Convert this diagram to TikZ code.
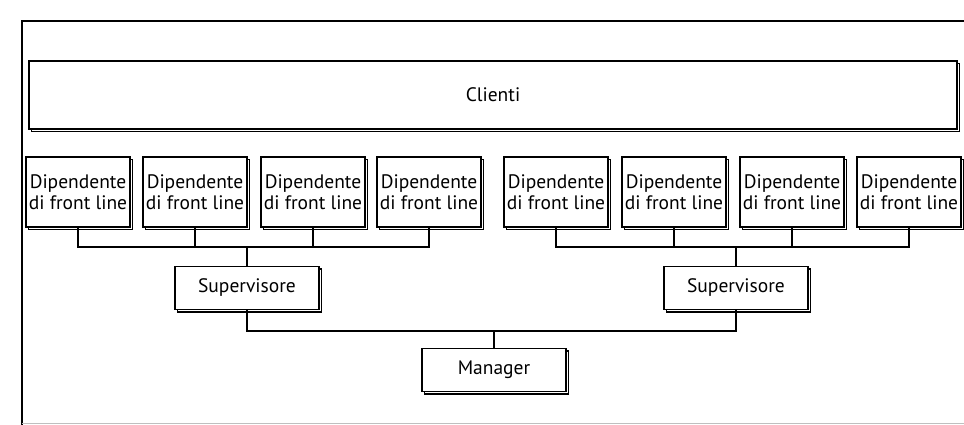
\documentclass[tikz,border=0pt]{standalone}
\usepackage{fontspec}
\setmainfont{PT Sans}
\usetikzlibrary{shadows}
\begin{document}
\begin{tikzpicture}[x=1pt,y=-1pt,line width=1.6pt,
    box/.style={draw,fill=white,inner sep=1pt,align=center,
      font=\fontsize{19.5}{21}\selectfont,
      copy shadow={shadow xshift=2.5pt,shadow yshift=-2.5pt}},
    dep/.style={box,minimum width=104pt,minimum height=70pt},
    capo/.style={box,minimum width=144pt,minimum height=43pt}]
      \useasboundingbox (0,0) rectangle (964,425);
      \draw (22,425) -- (22,21) -- (964,21);
      \draw[gray!50,line width=1pt] (22,423) -- (964,423);
      \node[box,minimum width=928pt,minimum height=68pt] (clienti) at (493,95) {Clienti};
      \node[dep] (d1) at (78,192) {Dipendente\\di front line};
      \node[dep] (d2) at (195,192) {Dipendente\\di front line};
      \node[dep] (d3) at (313,192) {Dipendente\\di front line};
      \node[dep] (d4) at (429,192) {Dipendente\\di front line};
      \node[dep] (d5) at (556,192) {Dipendente\\di front line};
      \node[dep] (d6) at (674,192) {Dipendente\\di front line};
      \node[dep] (d7) at (792,192) {Dipendente\\di front line};
      \node[dep] (d8) at (909,192) {Dipendente\\di front line};
      \node[capo] (sup1) at (247,288) {Supervisore};
      \node[capo] (sup2) at (736,288) {Supervisore};
      \node[capo] (mgr) at (494,370) {Manager};
      \coordinate (bus1) at (247,247);
      \coordinate (bus2) at (736,247);
      \coordinate (bus3) at (494,331);
      \draw (d1.south) |- (bus1) -| (d4.south);
      \draw (d2.south) -- (d2.south |- bus1);
      \draw (d3.south) -- (d3.south |- bus1);
      \draw (sup1.north) -- (bus1);
      \draw (d5.south) |- (bus2) -| (d8.south);
      \draw (d6.south) -- (d6.south |- bus2);
      \draw (d7.south) -- (d7.south |- bus2);
      \draw (sup2.north) -- (bus2);
      \draw (sup1.south) |- (bus3) -| (sup2.south);
      \draw (mgr.north) -- (bus3);
\end{tikzpicture}
\end{document}
